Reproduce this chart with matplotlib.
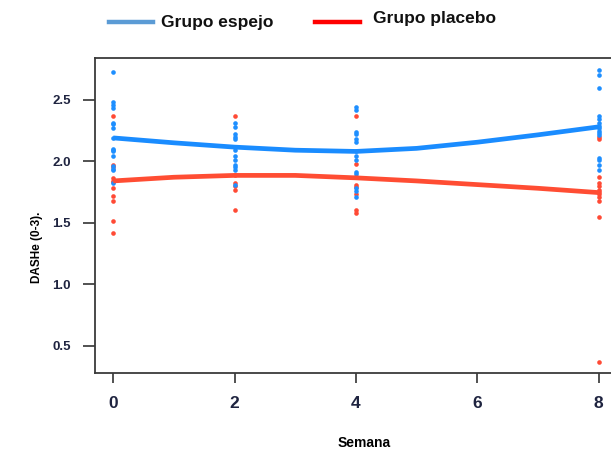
import matplotlib
matplotlib.use("Agg")
import matplotlib.pyplot as plt
from matplotlib.lines import Line2D

# ---- data ----
weeks_pts_blue = {
    0: [2.73, 2.48, 2.46, 2.43, 2.31, 2.30, 2.27, 2.19, 2.10, 2.09, 2.08, 2.04, 1.96, 1.94, 1.93, 1.82],
    2: [2.31, 2.28, 2.22, 2.20, 2.18, 2.12, 2.09, 2.04, 2.01, 1.97, 1.95, 1.93, 1.81],
    4: [2.44, 2.42, 2.24, 2.22, 2.18, 2.16, 2.08, 2.04, 2.01, 1.91, 1.90, 1.78, 1.76, 1.71],
    8: [2.74, 2.70, 2.60, 2.37, 2.34, 2.31, 2.29, 2.27, 2.25, 2.23, 2.21, 2.03, 2.01, 1.97, 1.93],
}
weeks_pts_red = {
    0: [2.37, 1.97, 1.95, 1.86, 1.84, 1.83, 1.78, 1.72, 1.68, 1.51, 1.42],
    2: [2.37, 1.89, 1.82, 1.80, 1.77, 1.60],
    4: [2.37, 1.98, 1.87, 1.81, 1.79, 1.73, 1.60, 1.58],
    8: [2.20, 2.18, 1.87, 1.82, 1.80, 1.77, 1.75, 1.73, 1.71, 1.68, 1.55, 0.37],
}
curve_x = [0, 1, 2, 3, 4, 5, 6, 7, 8]
curve_blue = [2.19, 2.15, 2.115, 2.09, 2.08, 2.105, 2.155, 2.215, 2.28]
curve_red = [1.84, 1.87, 1.885, 1.885, 1.865, 1.84, 1.81, 1.78, 1.745]
xticks = [0, 2, 4, 6, 8]
yticks = [0.5, 1.0, 1.5, 2.0, 2.5]
legend_labels = ["Grupo espejo", "Grupo placebo"]

plt.rcParams['font.family'] = ['Liberation Sans', 'DejaVu Sans']

fig = plt.figure(figsize=(6.11, 4.51), dpi=100)
ax = fig.add_axes([95/611, 1-372.7/451, (617-95)/611, (372.7-58)/451])

c_pt_blue = '#1e8fff'
c_pt_red = '#ff4a35'
c_ln_blue = '#1a8cff'
c_ln_red = '#ff4d33'

for wk, vals in weeks_pts_red.items():
    ax.scatter([wk]*len(vals), vals, s=11, color=c_pt_red, linewidths=0, zorder=3)
for wk, vals in weeks_pts_blue.items():
    ax.scatter([wk]*len(vals), vals, s=11, color=c_pt_blue, linewidths=0, zorder=3)

ax.plot(curve_x, curve_blue, color=c_ln_blue, lw=3.4, solid_capstyle='butt', zorder=4)
ax.plot(curve_x, curve_red, color=c_ln_red, lw=3.4, solid_capstyle='butt', zorder=4)

ax.set_xlim(-0.30, 8.30)
ax.set_ylim(0.28, 2.84)
ax.set_xticks(xticks)
ax.set_xticklabels([str(t) for t in xticks])
ax.set_yticks(yticks)
ax.set_yticklabels([f"{t:.1f}" for t in yticks])

for s in ['left', 'bottom', 'top']:
    ax.spines[s].set_color('#3a3a3a')
    ax.spines[s].set_linewidth(1.3)
ax.spines['right'].set_visible(False)

ax.tick_params(axis='x', length=7.5, width=1.2, color='#333333', pad=9,
               labelsize=12.5, labelcolor='#1f2440')
ax.tick_params(axis='y', length=8.5, width=1.2, color='#333333', pad=9,
               labelsize=9.5, labelcolor='#1f2440')
for lab in ax.get_xticklabels() + ax.get_yticklabels():
    lab.set_fontweight('bold')

fig.text(37/611, 1-247/451, "DASHe (0-3).", rotation=90, ha='center', va='center',
         fontsize=8.5, fontweight='bold', color='black')
fig.text(364/611, 1-443/451, "Semana", ha='center', va='center',
         fontsize=10, fontweight='bold', color='black')

# legend
fig.add_artist(Line2D([109/611, 153/611], [1-22/451, 1-22/451], color='#5b9bd5', lw=3.2,
                      transform=fig.transFigure))
fig.text(161/611, 1-22/451, legend_labels[0], ha='left', va='center',
         fontsize=12.5, fontweight='bold', color='#111111')
fig.add_artist(Line2D([315/611, 360/611], [1-22/451, 1-22/451], color='#ff0000', lw=3.2,
                      transform=fig.transFigure))
fig.text(373/611, 1-19/451, legend_labels[1], ha='left', va='center',
         fontsize=12.5, fontweight='bold', color='#111111')

fig.savefig("out.png", dpi=100)
